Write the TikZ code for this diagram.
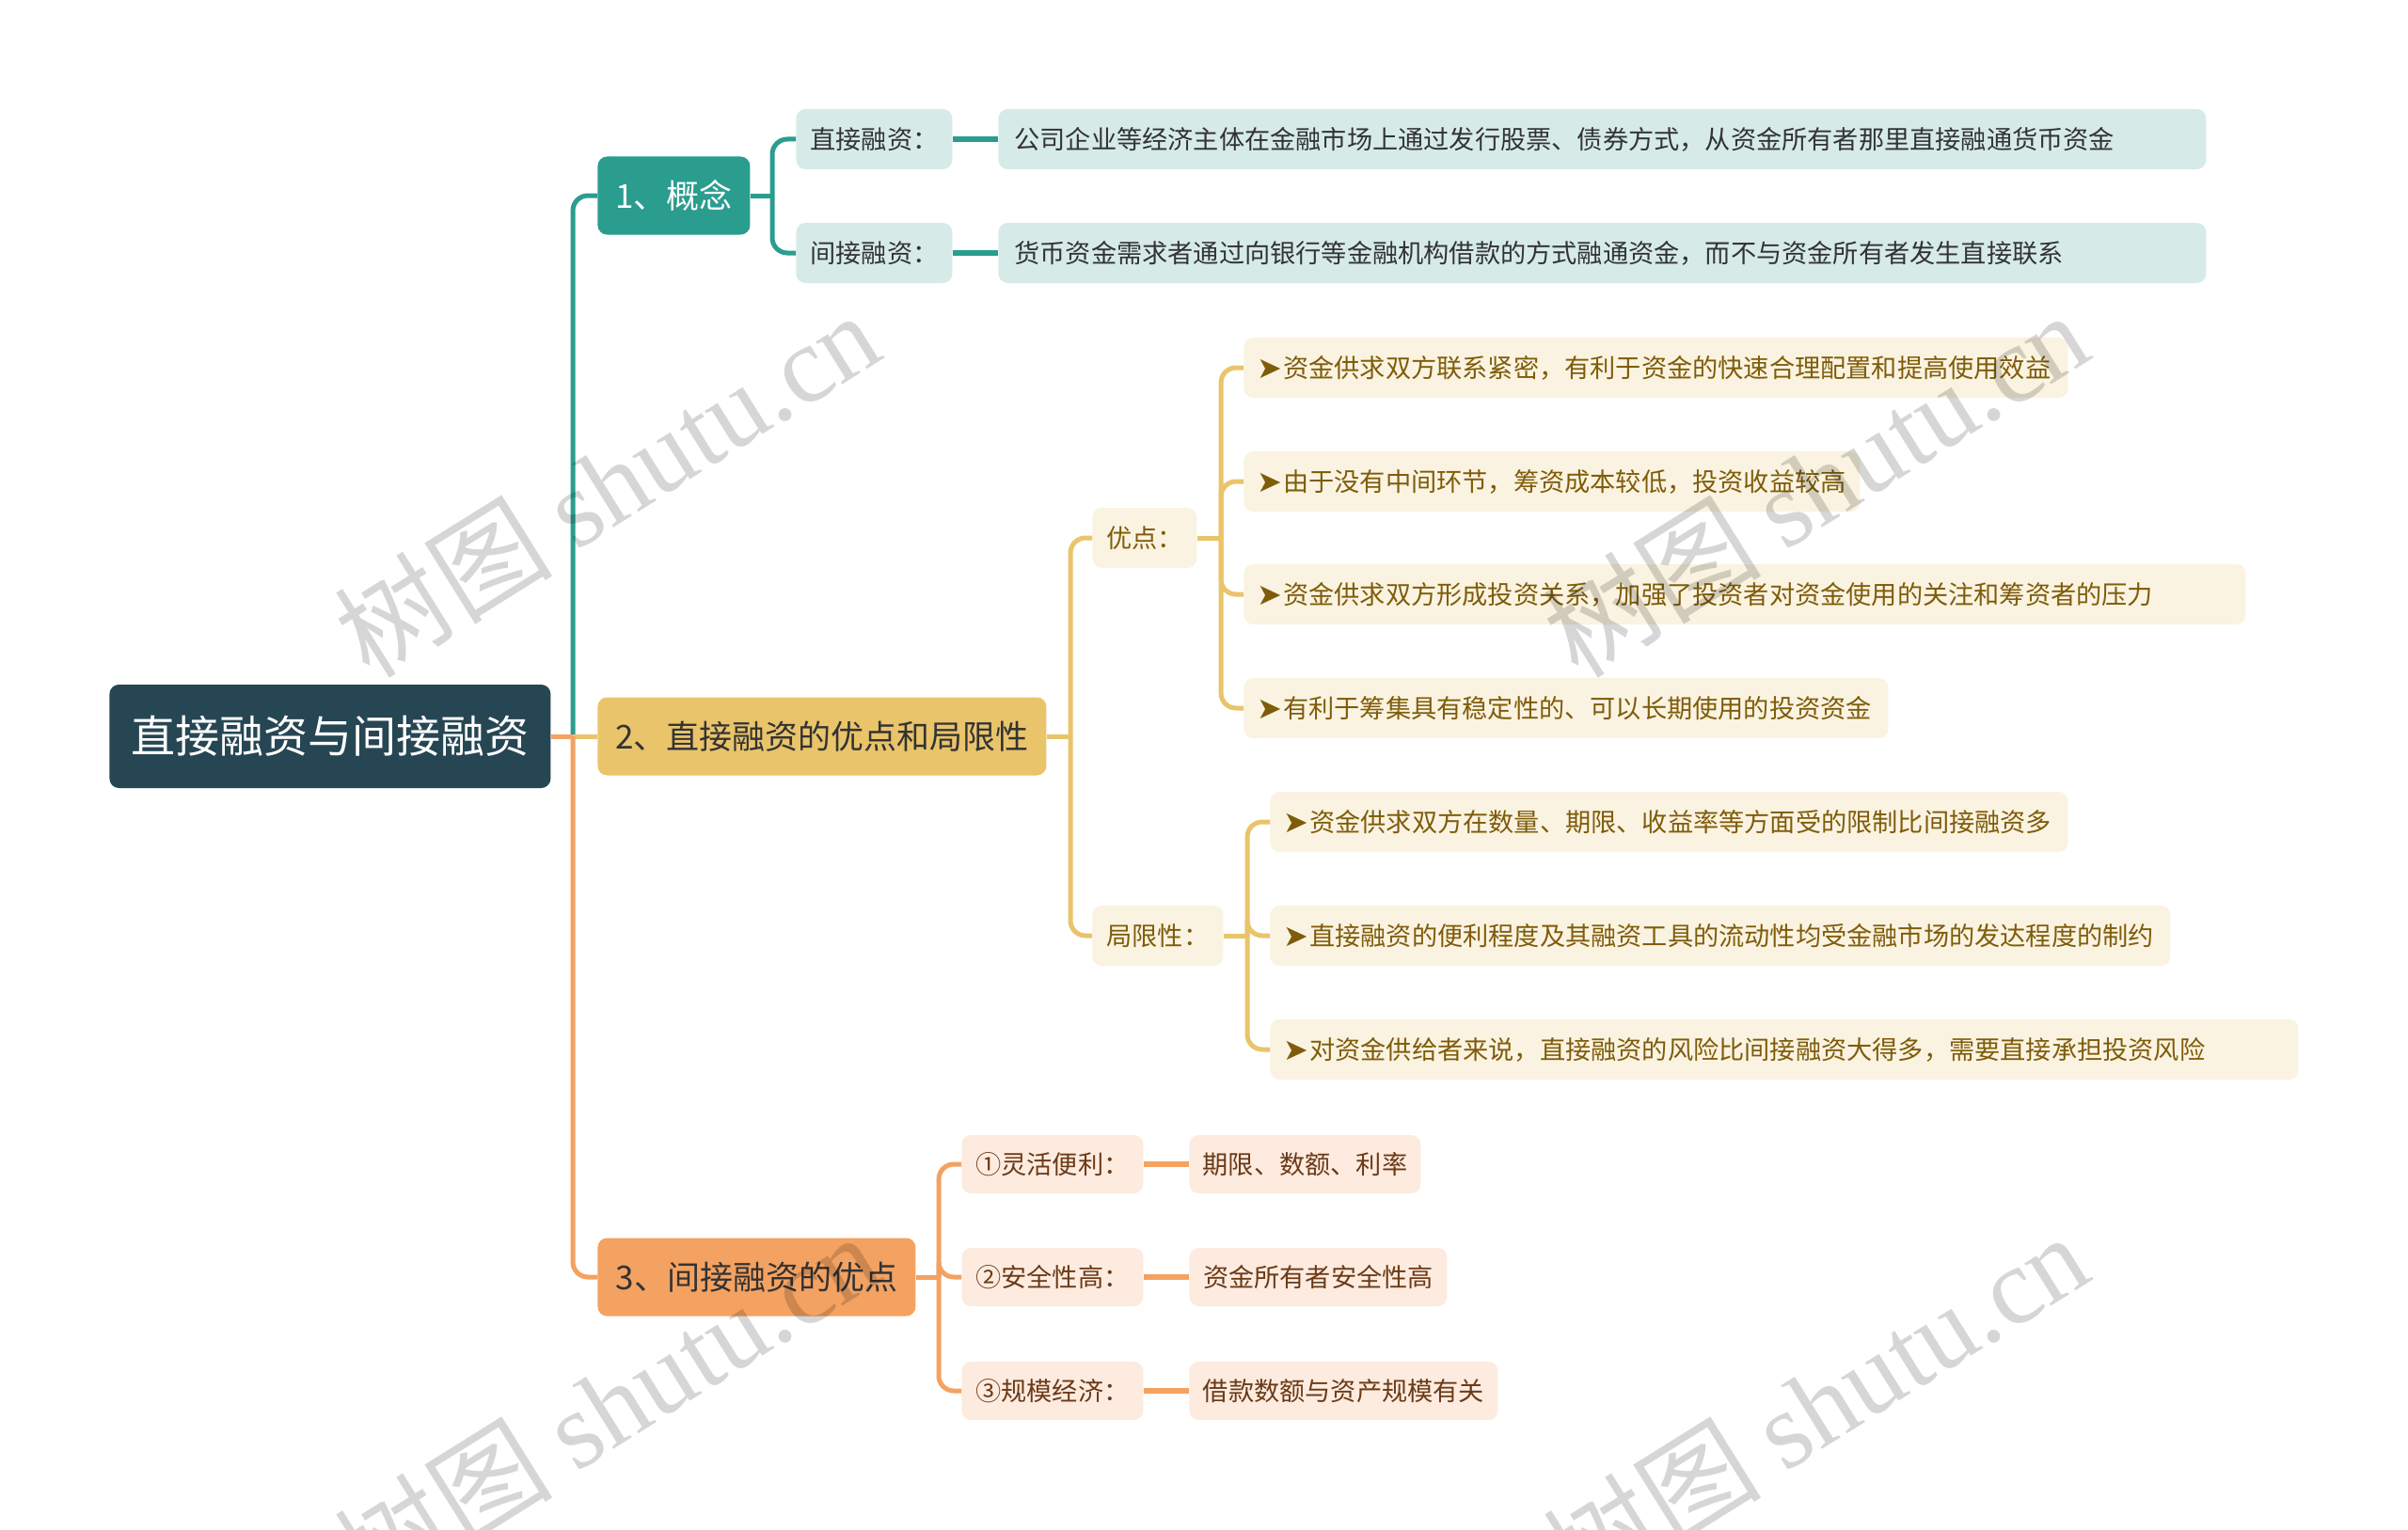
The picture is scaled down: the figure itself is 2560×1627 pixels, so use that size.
\documentclass[tikz,border=0pt]{standalone}
\usepackage{fontspec}
\setmainfont{Noto Sans CJK SC}
\newfontfamily\symfont{DejaVu Sans}
\newfontfamily\wmfont{Liberation Serif}
\definecolor{rootc}{HTML}{264653}
\definecolor{tealc}{HTML}{2A9D8F}
\definecolor{goldc}{HTML}{E9C46A}
\definecolor{orangec}{HTML}{F4A261}
\definecolor{teallt}{HTML}{D6EBE8}
\definecolor{goldlt}{HTML}{FAF3E1}
\definecolor{peachlt}{HTML}{FDEBE0}
\definecolor{goldtxt}{HTML}{7F5C0A}
\definecolor{peachtxt}{HTML}{6B3A16}
\definecolor{darktxt}{HTML}{333333}
\newcommand\arr{\raisebox{-0.6pt}{\symfont\fontsize{16pt}{16pt}\selectfont ➤}\hspace{0.5pt}}
\tikzset{
  base/.style={anchor=west, rounded corners=5pt, inner ysep=0pt, inner xsep=0pt},
  rootbox/.style={base, fill=rootc, text=white, minimum height=55pt, font=\fontsize{23.5pt}{26pt}\selectfont},
  lone/.style={base, text=darktxt, minimum height=41.5pt, font=\fontsize{17.5pt}{20pt}\selectfont},
  tealbox/.style={base, fill=teallt, text=darktxt, minimum height=32pt, font=\fontsize{13.6pt}{16pt}\selectfont},
  defbox/.style={tealbox, inner xsep=8.5pt, align=left},
  goldbox/.style={base, fill=goldlt, text=goldtxt, minimum height=32pt, font=\fontsize{13.6pt}{16pt}\selectfont},
  itembox/.style={goldbox, inner xsep=7pt, align=left},
  peachbox/.style={base, fill=peachlt, text=peachtxt, minimum height=31pt, font=\fontsize{13.6pt}{16pt}\selectfont},
  tl/.style={draw=tealc, line width=2.5pt},
  gl/.style={draw=goldc, line width=2.5pt},
  ol/.style={draw=orangec, line width=2.5pt},
  rc/.style={rounded corners=8pt},
  wm/.style={rotate=32, text=black, opacity=0.16, font=\fontsize{58pt}{62pt}\selectfont}
}
\begin{document}
\begin{tikzpicture}[x=0.5pt, y=-0.5pt]
\useasboundingbox (0,0) rectangle (2560,1627);
\fill[white] (0,0) rectangle (2560,1627);

% junctions
\coordinate (j0) at (609,783);
\coordinate (j1) at (821,208);
\coordinate (j2) at (1138,783);
\coordinate (j21) at (1298,572);
\coordinate (j22) at (1326,995);
\coordinate (j3) at (998,1358);

% nodes
\node[rootbox, minimum width=234.5pt] (root) at (116,783) {直接融资与间接融资};
\node[lone, fill=tealc, text=white, minimum width=81pt] (n1) at (635,208) {1、概念};
\node[lone, fill=goldc, minimum width=238.5pt] (n2) at (635,783) {2、直接融资的优点和局限性};
\node[lone, fill=orangec, minimum width=169pt] (n3) at (635,1358) {3、间接融资的优点};

\node[tealbox, minimum width=83pt] (t1) at (846,148) {直接融资：};
\node[tealbox, minimum width=83pt] (t2) at (846,269) {间接融资：};
\node[defbox, text width=625pt] (def1) at (1061,148) {公司企业等经济主体在金融市场上通过发行股票、债券方式，从资金所有者那里直接融通货币资金};
\node[defbox, text width=625pt] (def2) at (1061,269) {货币资金需求者通过向银行等金融机构借款的方式融通资金，而不与资金所有者发生直接联系};

\node[goldbox, minimum width=55.5pt] (yd) at (1161,572) {优点：};
\node[goldbox, minimum width=69.5pt] (jx) at (1161,995) {局限性：};
\node[itembox, text width=424pt] (a1) at (1322,391) {\arr 资金供求双方联系紧密，有利于资金的快速合理配置和提高使用效益};
\node[itembox, text width=313.5pt] (a2) at (1322,512) {\arr 由于没有中间环节，筹资成本较低，投资收益较高};
\node[itembox, text width=518.5pt] (a3) at (1322,632) {\arr 资金供求双方形成投资关系，加强了投资者对资金使用的关注和筹资者的压力};
\node[itembox, text width=328.5pt] (a4) at (1322,753) {\arr 有利于筹集具有稳定性的、可以长期使用的投资资金};
\node[itembox, text width=410pt] (b1) at (1350,874) {\arr 资金供求双方在数量、期限、收益率等方面受的限制比间接融资多};
\node[itembox, text width=464.5pt] (b2) at (1350,995) {\arr 直接融资的便利程度及其融资工具的流动性均受金融市场的发达程度的制约};
\node[itembox, text width=532.5pt] (b3) at (1350,1116) {\arr 对资金供给者来说，直接融资的风险比间接融资大得多，需要直接承担投资风险};

\node[peachbox, minimum width=96.5pt] (c1) at (1022,1238) {①灵活便利：};
\node[peachbox, minimum width=96.5pt] (c2) at (1022,1358) {②安全性高：};
\node[peachbox, minimum width=96.5pt] (c3) at (1022,1479) {③规模经济：};
\node[peachbox, minimum width=123pt] (d1) at (1264,1238) {期限、数额、利率};
\node[peachbox, minimum width=137pt] (d2) at (1264,1358) {资金所有者安全性高};
\node[peachbox, minimum width=164pt] (d3) at (1264,1479) {借款数额与资产规模有关};

% connectors
\draw[tl, rc] (j0) |- (n1.west);
\draw[gl] (j0) -- (n2.west);
\draw[ol] (root.east) -- (j0);
\draw[ol, rc] (j0) |- (n3.west);

\draw[tl] (n1.east) -- (j1);
\draw[tl, rc] (j1) |- (t1.west);
\draw[tl, rc] (j1) |- (t2.west);
\draw[tl, line width=3pt] (t1.east) -- (def1.west);
\draw[tl, line width=3pt] (t2.east) -- (def2.west);

\draw[gl] (n2.east) -- (j2);
\draw[gl, rc] (j2) |- (yd.west);
\draw[gl, rc] (j2) |- (jx.west);
\draw[gl] (yd.east) -- (j21);
\foreach \k in {a1,a2,a3,a4} \draw[gl, rc] (j21) |- (\k.west);
\draw[gl] (jx.east) -- (j22);
\foreach \k in {b1,b2,b3} \draw[gl, rc] (j22) |- (\k.west);

\draw[ol] (n3.east) -- (j3);
\foreach \k in {c1,c2,c3} \draw[ol, rc] (j3) |- (\k.west);
\draw[ol, line width=3pt] (c1.east) -- (d1.west);
\draw[ol, line width=3pt] (c2.east) -- (d2.west);
\draw[ol, line width=3pt] (c3.east) -- (d3.west);

% watermarks
\node[wm] (wm1) at (645,514) {树图 {\wmfont shutu.cn}};
\node[wm] (wm2) at (1930,514) {树图 {\wmfont shutu.cn}};
\node[wm] (wm3) at (645,1494) {树图 {\wmfont shutu.cn}};
\node[wm] (wm4) at (1930,1494) {树图 {\wmfont shutu.cn}};
\end{tikzpicture}
\end{document}
